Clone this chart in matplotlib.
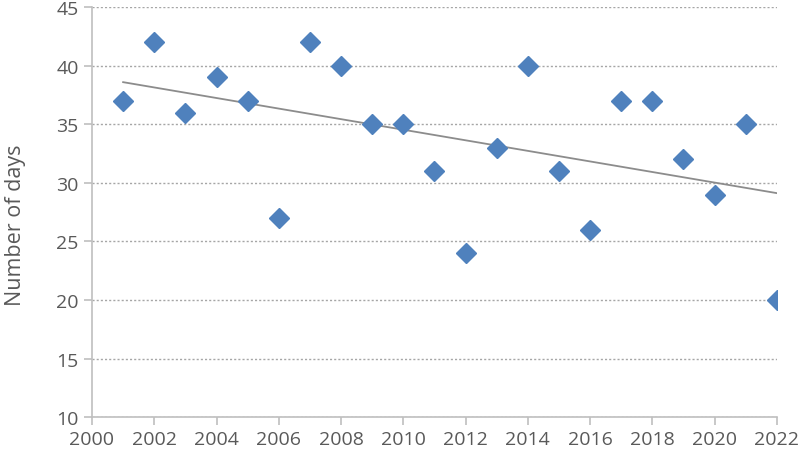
import numpy as np
import matplotlib
matplotlib.use("Agg")
import matplotlib.pyplot as plt

# Number of days per year
years = [2001, 2002, 2003, 2004, 2005, 2006, 2007, 2008, 2009, 2010, 2011,
         2012, 2013, 2014, 2015, 2016, 2017, 2018, 2019, 2020, 2021, 2022]
days = [37, 42, 36, 39, 37, 27, 42, 40, 35, 35, 31,
        24, 33, 40, 31, 26, 37, 37, 32, 29, 35, 20]

xticks = list(range(2000, 2023, 2))
yticks = list(range(10, 46, 5))

# linear trend line
coef = np.polyfit(years, days, 1)
trend = np.polyval(coef, years)

plt.rcParams['font.family'] = ['Open Sans', 'DejaVu Sans']
txtcol = '#595959'
axcol = '#bfbfbf'

fig = plt.figure(figsize=(8, 4.56), dpi=100)
ax = fig.add_axes([0.115, 0.083, 0.856, 0.899])

ax.plot(years, trend, color='#8c8c8c', lw=1.3, zorder=2)
ax.plot(years, days, linestyle='none', marker='D', markersize=10,
        color='#4f81bd', markeredgecolor='#4f81bd', zorder=3)

ax.set_xlim(2000, 2022)
ax.set_ylim(10, 45)
ax.set_xticks(xticks)
ax.set_yticks(yticks)
ax.yaxis.grid(True, linestyle=(0, (1.5, 1.5)), color='#a6a6a6', lw=1)
ax.set_axisbelow(True)

for s in ['top', 'right']:
    ax.spines[s].set_visible(False)
for s in ['left', 'bottom']:
    ax.spines[s].set_color(axcol)
    ax.spines[s].set_linewidth(1.2)

ax.tick_params(axis='both', colors=axcol, labelcolor=txtcol, labelsize=14,
               length=6, width=1.2)
ax.set_ylabel('Number of days', color=txtcol, fontsize=15.5)
ax.yaxis.set_label_coords(-0.097, 0.47)

plt.savefig('out.png', dpi=100)
plt.close()
